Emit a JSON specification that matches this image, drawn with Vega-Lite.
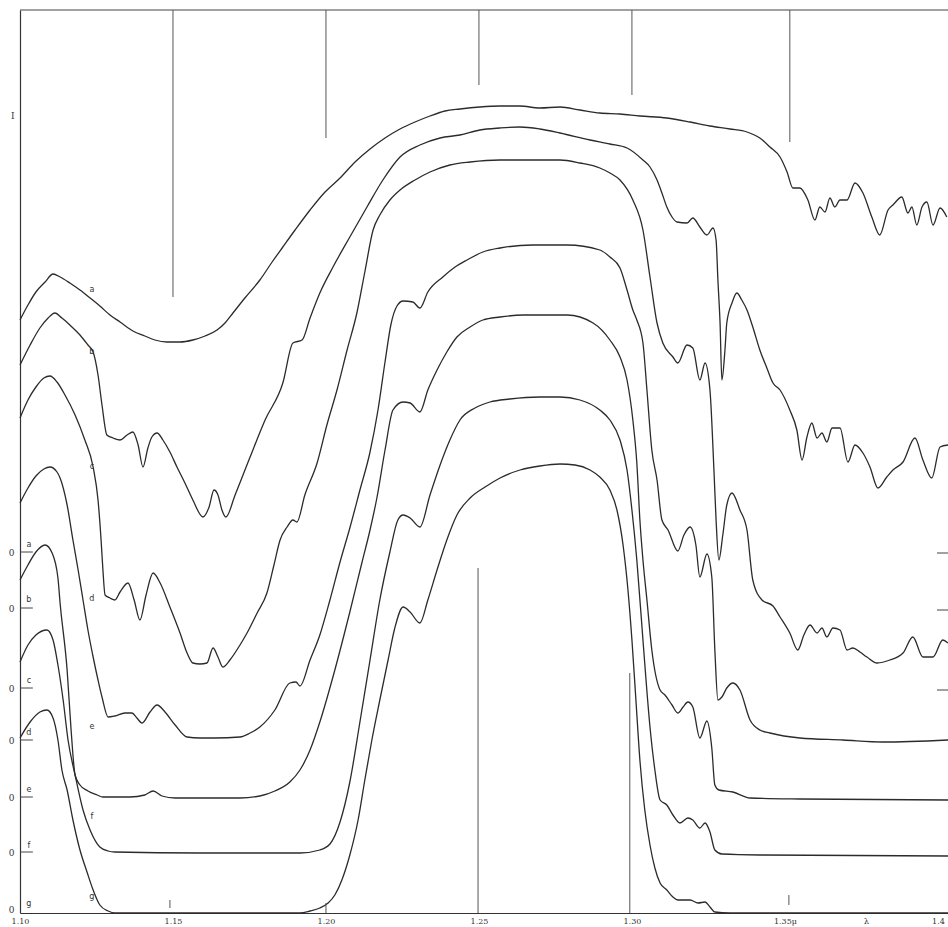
{
"$schema":"https://vega.github.io/schema/vega-lite/v6.json",
"width":928,"height":903,
"autosize":{"type":"none"},
"padding":{"left":20,"top":10,"right":0,"bottom":14},
"background":"white",
"config":{"view":{"stroke":null},"font":"DejaVu Serif"},
"datasets":{
"spectra":[
{"c":"a","lam":1.1000,"I":593},{"c":"a","lam":1.1026,"I":608},{"c":"a","lam":1.1052,"I":621},{"c":"a","lam":1.1082,"I":631},{"c":"a","lam":1.1108,"I":639},{"c":"a","lam":1.1131,"I":636},{"c":"a","lam":1.1163,"I":630},{"c":"a","lam":1.1196,"I":623},{"c":"a","lam":1.1229,"I":615},{"c":"a","lam":1.1261,"I":607},{"c":"a","lam":1.1294,"I":598},{"c":"a","lam":1.1327,"I":591},{"c":"a","lam":1.1369,"I":582},{"c":"a","lam":1.1408,"I":577},{"c":"a","lam":1.1441,"I":573},{"c":"a","lam":1.1480,"I":571},{"c":"a","lam":1.1523,"I":571},{"c":"a","lam":1.1565,"I":573},{"c":"a","lam":1.1605,"I":577},{"c":"a","lam":1.1644,"I":583},{"c":"a","lam":1.1670,"I":590},{"c":"a","lam":1.1696,"I":600},{"c":"a","lam":1.1735,"I":615},{"c":"a","lam":1.1784,"I":633},{"c":"a","lam":1.1824,"I":651},{"c":"a","lam":1.1859,"I":666},{"c":"a","lam":1.1899,"I":683},{"c":"a","lam":1.1948,"I":703},{"c":"a","lam":1.1997,"I":721},{"c":"a","lam":1.2046,"I":735},{"c":"a","lam":1.2095,"I":751},{"c":"a","lam":1.2144,"I":764},{"c":"a","lam":1.2193,"I":775},{"c":"a","lam":1.2242,"I":784},{"c":"a","lam":1.2291,"I":791},{"c":"a","lam":1.2340,"I":797},{"c":"a","lam":1.2389,"I":802},{"c":"a","lam":1.2438,"I":804},{"c":"a","lam":1.2503,"I":806},{"c":"a","lam":1.2569,"I":807},{"c":"a","lam":1.2634,"I":807},{"c":"a","lam":1.2699,"I":805},{"c":"a","lam":1.2765,"I":806},{"c":"a","lam":1.2830,"I":803},{"c":"a","lam":1.2895,"I":800},{"c":"a","lam":1.2961,"I":799},{"c":"a","lam":1.3026,"I":797},{"c":"a","lam":1.3114,"I":795},{"c":"a","lam":1.3190,"I":791},{"c":"a","lam":1.3255,"I":787},{"c":"a","lam":1.3320,"I":784},{"c":"a","lam":1.3376,"I":781},{"c":"a","lam":1.3418,"I":775},{"c":"a","lam":1.3451,"I":766},{"c":"a","lam":1.3484,"I":756},{"c":"a","lam":1.3507,"I":741},{"c":"a","lam":1.3526,"I":725},{"c":"a","lam":1.3549,"I":725},{"c":"a","lam":1.3575,"I":713},{"c":"a","lam":1.3598,"I":693},{"c":"a","lam":1.3614,"I":706},{"c":"a","lam":1.3631,"I":701},{"c":"a","lam":1.3647,"I":715},{"c":"a","lam":1.3663,"I":706},{"c":"a","lam":1.3680,"I":713},{"c":"a","lam":1.3703,"I":713},{"c":"a","lam":1.3729,"I":730},{"c":"a","lam":1.3755,"I":720},{"c":"a","lam":1.3784,"I":696},{"c":"a","lam":1.3810,"I":678},{"c":"a","lam":1.3837,"I":703},{"c":"a","lam":1.3853,"I":708},{"c":"a","lam":1.3882,"I":716},{"c":"a","lam":1.3902,"I":700},{"c":"a","lam":1.3915,"I":706},{"c":"a","lam":1.3931,"I":688},{"c":"a","lam":1.3948,"I":706},{"c":"a","lam":1.3964,"I":711},{"c":"a","lam":1.3984,"I":688},{"c":"a","lam":1.4007,"I":705},{"c":"a","lam":1.4029,"I":696},
{"c":"b","lam":1.1000,"I":548},{"c":"b","lam":1.1033,"I":568},{"c":"b","lam":1.1065,"I":585},{"c":"b","lam":1.1092,"I":595},{"c":"b","lam":1.1114,"I":600},{"c":"b","lam":1.1137,"I":595},{"c":"b","lam":1.1163,"I":588},{"c":"b","lam":1.1196,"I":578},{"c":"b","lam":1.1222,"I":568},{"c":"b","lam":1.1239,"I":561},{"c":"b","lam":1.1255,"I":538},{"c":"b","lam":1.1268,"I":508},{"c":"b","lam":1.1284,"I":478},{"c":"b","lam":1.1304,"I":475},{"c":"b","lam":1.1327,"I":473},{"c":"b","lam":1.1350,"I":478},{"c":"b","lam":1.1369,"I":481},{"c":"b","lam":1.1386,"I":468},{"c":"b","lam":1.1402,"I":446},{"c":"b","lam":1.1418,"I":465},{"c":"b","lam":1.1431,"I":476},{"c":"b","lam":1.1448,"I":480},{"c":"b","lam":1.1467,"I":473},{"c":"b","lam":1.1490,"I":461},{"c":"b","lam":1.1513,"I":446},{"c":"b","lam":1.1539,"I":430},{"c":"b","lam":1.1565,"I":413},{"c":"b","lam":1.1598,"I":396},{"c":"b","lam":1.1618,"I":406},{"c":"b","lam":1.1634,"I":423},{"c":"b","lam":1.1647,"I":418},{"c":"b","lam":1.1660,"I":403},{"c":"b","lam":1.1673,"I":396},{"c":"b","lam":1.1703,"I":418},{"c":"b","lam":1.1752,"I":456},{"c":"b","lam":1.1801,"I":493},{"c":"b","lam":1.1859,"I":530},{"c":"b","lam":1.1892,"I":570},{"c":"b","lam":1.1922,"I":573},{"c":"b","lam":1.1948,"I":595},{"c":"b","lam":1.1980,"I":620},{"c":"b","lam":1.2023,"I":646},{"c":"b","lam":1.2078,"I":676},{"c":"b","lam":1.2134,"I":706},{"c":"b","lam":1.2186,"I":733},{"c":"b","lam":1.2242,"I":756},{"c":"b","lam":1.2307,"I":768},{"c":"b","lam":1.2373,"I":775},{"c":"b","lam":1.2438,"I":778},{"c":"b","lam":1.2503,"I":783},{"c":"b","lam":1.2569,"I":785},{"c":"b","lam":1.2634,"I":786},{"c":"b","lam":1.2699,"I":784},{"c":"b","lam":1.2765,"I":780},{"c":"b","lam":1.2863,"I":773},{"c":"b","lam":1.2928,"I":769},{"c":"b","lam":1.2984,"I":765},{"c":"b","lam":1.3036,"I":753},{"c":"b","lam":1.3059,"I":746},{"c":"b","lam":1.3082,"I":733},{"c":"b","lam":1.3098,"I":720},{"c":"b","lam":1.3114,"I":706},{"c":"b","lam":1.3131,"I":696},{"c":"b","lam":1.3147,"I":691},{"c":"b","lam":1.3180,"I":690},{"c":"b","lam":1.3199,"I":695},{"c":"b","lam":1.3222,"I":686},{"c":"b","lam":1.3245,"I":678},{"c":"b","lam":1.3265,"I":685},{"c":"b","lam":1.3275,"I":673},{"c":"b","lam":1.3281,"I":633},{"c":"b","lam":1.3288,"I":590},{"c":"b","lam":1.3294,"I":533},{"c":"b","lam":1.3304,"I":563},{"c":"b","lam":1.3310,"I":590},{"c":"b","lam":1.3327,"I":610},{"c":"b","lam":1.3343,"I":620},{"c":"b","lam":1.3359,"I":613},{"c":"b","lam":1.3376,"I":603},{"c":"b","lam":1.3395,"I":586},{"c":"b","lam":1.3418,"I":563},{"c":"b","lam":1.3441,"I":545},{"c":"b","lam":1.3461,"I":530},{"c":"b","lam":1.3484,"I":523},{"c":"b","lam":1.3516,"I":503},{"c":"b","lam":1.3539,"I":483},{"c":"b","lam":1.3556,"I":453},{"c":"b","lam":1.3572,"I":476},{"c":"b","lam":1.3588,"I":490},{"c":"b","lam":1.3605,"I":475},{"c":"b","lam":1.3621,"I":480},{"c":"b","lam":1.3637,"I":471},{"c":"b","lam":1.3654,"I":485},{"c":"b","lam":1.3680,"I":485},{"c":"b","lam":1.3706,"I":451},{"c":"b","lam":1.3729,"I":468},{"c":"b","lam":1.3755,"I":460},{"c":"b","lam":1.3778,"I":446},{"c":"b","lam":1.3804,"I":425},{"c":"b","lam":1.3833,"I":436},{"c":"b","lam":1.3853,"I":443},{"c":"b","lam":1.3886,"I":451},{"c":"b","lam":1.3925,"I":475},{"c":"b","lam":1.3951,"I":453},{"c":"b","lam":1.3980,"I":435},{"c":"b","lam":1.4007,"I":466},{"c":"b","lam":1.4033,"I":468},
{"c":"c","lam":1.1000,"I":495},{"c":"c","lam":1.1026,"I":513},{"c":"c","lam":1.1052,"I":526},{"c":"c","lam":1.1078,"I":535},{"c":"c","lam":1.1098,"I":537},{"c":"c","lam":1.1121,"I":531},{"c":"c","lam":1.1147,"I":518},{"c":"c","lam":1.1180,"I":498},{"c":"c","lam":1.1212,"I":473},{"c":"c","lam":1.1239,"I":446},{"c":"c","lam":1.1255,"I":413},{"c":"c","lam":1.1265,"I":373},{"c":"c","lam":1.1271,"I":343},{"c":"c","lam":1.1278,"I":318},{"c":"c","lam":1.1294,"I":315},{"c":"c","lam":1.1310,"I":313},{"c":"c","lam":1.1327,"I":321},{"c":"c","lam":1.1353,"I":330},{"c":"c","lam":1.1373,"I":313},{"c":"c","lam":1.1392,"I":293},{"c":"c","lam":1.1412,"I":318},{"c":"c","lam":1.1435,"I":340},{"c":"c","lam":1.1458,"I":330},{"c":"c","lam":1.1490,"I":306},{"c":"c","lam":1.1523,"I":280},{"c":"c","lam":1.1546,"I":260},{"c":"c","lam":1.1565,"I":250},{"c":"c","lam":1.1588,"I":249},{"c":"c","lam":1.1611,"I":250},{"c":"c","lam":1.1631,"I":265},{"c":"c","lam":1.1647,"I":256},{"c":"c","lam":1.1663,"I":246},{"c":"c","lam":1.1686,"I":253},{"c":"c","lam":1.1719,"I":268},{"c":"c","lam":1.1742,"I":280},{"c":"c","lam":1.1775,"I":300},{"c":"c","lam":1.1807,"I":320},{"c":"c","lam":1.1830,"I":348},{"c":"c","lam":1.1850,"I":373},{"c":"c","lam":1.1873,"I":386},{"c":"c","lam":1.1892,"I":393},{"c":"c","lam":1.1905,"I":391},{"c":"c","lam":1.1931,"I":418},{"c":"c","lam":1.1971,"I":450},{"c":"c","lam":1.2003,"I":488},{"c":"c","lam":1.2036,"I":523},{"c":"c","lam":1.2069,"I":563},{"c":"c","lam":1.2101,"I":600},{"c":"c","lam":1.2127,"I":641},{"c":"c","lam":1.2154,"I":683},{"c":"c","lam":1.2176,"I":698},{"c":"c","lam":1.2209,"I":713},{"c":"c","lam":1.2242,"I":723},{"c":"c","lam":1.2291,"I":733},{"c":"c","lam":1.2340,"I":741},{"c":"c","lam":1.2405,"I":748},{"c":"c","lam":1.2471,"I":751},{"c":"c","lam":1.2569,"I":753},{"c":"c","lam":1.2667,"I":753},{"c":"c","lam":1.2765,"I":753},{"c":"c","lam":1.2830,"I":750},{"c":"c","lam":1.2895,"I":745},{"c":"c","lam":1.2928,"I":740},{"c":"c","lam":1.2961,"I":733},{"c":"c","lam":1.3003,"I":713},{"c":"c","lam":1.3036,"I":683},{"c":"c","lam":1.3059,"I":636},{"c":"c","lam":1.3082,"I":590},{"c":"c","lam":1.3101,"I":570},{"c":"c","lam":1.3134,"I":556},{"c":"c","lam":1.3150,"I":550},{"c":"c","lam":1.3180,"I":568},{"c":"c","lam":1.3199,"I":565},{"c":"c","lam":1.3222,"I":533},{"c":"c","lam":1.3239,"I":550},{"c":"c","lam":1.3255,"I":523},{"c":"c","lam":1.3268,"I":443},{"c":"c","lam":1.3275,"I":393},{"c":"c","lam":1.3284,"I":353},{"c":"c","lam":1.3297,"I":378},{"c":"c","lam":1.3310,"I":408},{"c":"c","lam":1.3327,"I":420},{"c":"c","lam":1.3353,"I":403},{"c":"c","lam":1.3376,"I":383},{"c":"c","lam":1.3395,"I":333},{"c":"c","lam":1.3425,"I":313},{"c":"c","lam":1.3461,"I":307},{"c":"c","lam":1.3484,"I":296},{"c":"c","lam":1.3516,"I":280},{"c":"c","lam":1.3542,"I":263},{"c":"c","lam":1.3562,"I":278},{"c":"c","lam":1.3582,"I":288},{"c":"c","lam":1.3605,"I":280},{"c":"c","lam":1.3621,"I":285},{"c":"c","lam":1.3637,"I":276},{"c":"c","lam":1.3657,"I":285},{"c":"c","lam":1.3680,"I":283},{"c":"c","lam":1.3703,"I":263},{"c":"c","lam":1.3722,"I":265},{"c":"c","lam":1.3745,"I":261},{"c":"c","lam":1.3768,"I":256},{"c":"c","lam":1.3801,"I":250},{"c":"c","lam":1.3843,"I":253},{"c":"c","lam":1.3886,"I":260},{"c":"c","lam":1.3918,"I":276},{"c":"c","lam":1.3951,"I":256},{"c":"c","lam":1.3984,"I":256},{"c":"c","lam":1.4016,"I":273},{"c":"c","lam":1.4033,"I":270},
{"c":"d","lam":1.1000,"I":410},{"c":"d","lam":1.1026,"I":425},{"c":"d","lam":1.1052,"I":437},{"c":"d","lam":1.1078,"I":444},{"c":"d","lam":1.1098,"I":446},{"c":"d","lam":1.1121,"I":441},{"c":"d","lam":1.1131,"I":435},{"c":"d","lam":1.1154,"I":408},{"c":"d","lam":1.1173,"I":373},{"c":"d","lam":1.1190,"I":343},{"c":"d","lam":1.1206,"I":313},{"c":"d","lam":1.1222,"I":283},{"c":"d","lam":1.1239,"I":256},{"c":"d","lam":1.1255,"I":233},{"c":"d","lam":1.1268,"I":216},{"c":"d","lam":1.1288,"I":196},{"c":"d","lam":1.1310,"I":197},{"c":"d","lam":1.1343,"I":200},{"c":"d","lam":1.1366,"I":200},{"c":"d","lam":1.1382,"I":195},{"c":"d","lam":1.1399,"I":190},{"c":"d","lam":1.1425,"I":201},{"c":"d","lam":1.1448,"I":208},{"c":"d","lam":1.1474,"I":201},{"c":"d","lam":1.1507,"I":188},{"c":"d","lam":1.1546,"I":176},{"c":"d","lam":1.1588,"I":175},{"c":"d","lam":1.1637,"I":175},{"c":"d","lam":1.1719,"I":176},{"c":"d","lam":1.1752,"I":180},{"c":"d","lam":1.1784,"I":186},{"c":"d","lam":1.1833,"I":203},{"c":"d","lam":1.1882,"I":230},{"c":"d","lam":1.1902,"I":231},{"c":"d","lam":1.1915,"I":227},{"c":"d","lam":1.1948,"I":253},{"c":"d","lam":1.1980,"I":278},{"c":"d","lam":1.2013,"I":313},{"c":"d","lam":1.2046,"I":351},{"c":"d","lam":1.2078,"I":385},{"c":"d","lam":1.2111,"I":423},{"c":"d","lam":1.2144,"I":461},{"c":"d","lam":1.2170,"I":503},{"c":"d","lam":1.2193,"I":551},{"c":"d","lam":1.2212,"I":588},{"c":"d","lam":1.2232,"I":607},{"c":"d","lam":1.2252,"I":612},{"c":"d","lam":1.2284,"I":611},{"c":"d","lam":1.2307,"I":605},{"c":"d","lam":1.2333,"I":621},{"c":"d","lam":1.2382,"I":636},{"c":"d","lam":1.2422,"I":646},{"c":"d","lam":1.2461,"I":653},{"c":"d","lam":1.2513,"I":661},{"c":"d","lam":1.2569,"I":665},{"c":"d","lam":1.2676,"I":668},{"c":"d","lam":1.2788,"I":668},{"c":"d","lam":1.2895,"I":663},{"c":"d","lam":1.2928,"I":656},{"c":"d","lam":1.2961,"I":645},{"c":"d","lam":1.2984,"I":623},{"c":"d","lam":1.3003,"I":603},{"c":"d","lam":1.3016,"I":593},{"c":"d","lam":1.3036,"I":570},{"c":"d","lam":1.3049,"I":523},{"c":"d","lam":1.3065,"I":463},{"c":"d","lam":1.3082,"I":433},{"c":"d","lam":1.3098,"I":393},{"c":"d","lam":1.3118,"I":383},{"c":"d","lam":1.3150,"I":362},{"c":"d","lam":1.3170,"I":378},{"c":"d","lam":1.3190,"I":386},{"c":"d","lam":1.3209,"I":368},{"c":"d","lam":1.3222,"I":336},{"c":"d","lam":1.3245,"I":359},{"c":"d","lam":1.3261,"I":336},{"c":"d","lam":1.3271,"I":263},{"c":"d","lam":1.3281,"I":213},{"c":"d","lam":1.3294,"I":216},{"c":"d","lam":1.3310,"I":225},{"c":"d","lam":1.3330,"I":230},{"c":"d","lam":1.3353,"I":223},{"c":"d","lam":1.3386,"I":193},{"c":"d","lam":1.3418,"I":183},{"c":"d","lam":1.3451,"I":180},{"c":"d","lam":1.3549,"I":175},{"c":"d","lam":1.3690,"I":173},{"c":"d","lam":1.3820,"I":171},{"c":"d","lam":1.4033,"I":173},
{"c":"e","lam":1.1000,"I":333},{"c":"e","lam":1.1026,"I":348},{"c":"e","lam":1.1052,"I":361},{"c":"e","lam":1.1082,"I":368},{"c":"e","lam":1.1105,"I":360},{"c":"e","lam":1.1124,"I":335},{"c":"e","lam":1.1131,"I":310},{"c":"e","lam":1.1154,"I":243},{"c":"e","lam":1.1167,"I":183},{"c":"e","lam":1.1180,"I":138},{"c":"e","lam":1.1196,"I":128},{"c":"e","lam":1.1222,"I":122},{"c":"e","lam":1.1252,"I":118},{"c":"e","lam":1.1271,"I":116},{"c":"e","lam":1.1359,"I":116},{"c":"e","lam":1.1408,"I":118},{"c":"e","lam":1.1435,"I":122},{"c":"e","lam":1.1464,"I":117},{"c":"e","lam":1.1507,"I":115},{"c":"e","lam":1.1719,"I":115},{"c":"e","lam":1.1784,"I":117},{"c":"e","lam":1.1833,"I":122},{"c":"e","lam":1.1882,"I":131},{"c":"e","lam":1.1915,"I":143},{"c":"e","lam":1.1948,"I":163},{"c":"e","lam":1.1980,"I":191},{"c":"e","lam":1.2029,"I":243},{"c":"e","lam":1.2078,"I":301},{"c":"e","lam":1.2118,"I":351},{"c":"e","lam":1.2144,"I":383},{"c":"e","lam":1.2167,"I":416},{"c":"e","lam":1.2193,"I":463},{"c":"e","lam":1.2219,"I":503},{"c":"e","lam":1.2252,"I":511},{"c":"e","lam":1.2275,"I":510},{"c":"e","lam":1.2307,"I":501},{"c":"e","lam":1.2333,"I":523},{"c":"e","lam":1.2363,"I":543},{"c":"e","lam":1.2395,"I":561},{"c":"e","lam":1.2428,"I":576},{"c":"e","lam":1.2471,"I":586},{"c":"e","lam":1.2513,"I":593},{"c":"e","lam":1.2569,"I":596},{"c":"e","lam":1.2644,"I":598},{"c":"e","lam":1.2788,"I":598},{"c":"e","lam":1.2873,"I":590},{"c":"e","lam":1.2928,"I":573},{"c":"e","lam":1.2961,"I":556},{"c":"e","lam":1.2984,"I":533},{"c":"e","lam":1.3003,"I":493},{"c":"e","lam":1.3016,"I":450},{"c":"e","lam":1.3026,"I":393},{"c":"e","lam":1.3036,"I":353},{"c":"e","lam":1.3049,"I":313},{"c":"e","lam":1.3065,"I":263},{"c":"e","lam":1.3092,"I":223},{"c":"e","lam":1.3108,"I":218},{"c":"e","lam":1.3131,"I":208},{"c":"e","lam":1.3150,"I":200},{"c":"e","lam":1.3167,"I":206},{"c":"e","lam":1.3183,"I":211},{"c":"e","lam":1.3199,"I":206},{"c":"e","lam":1.3222,"I":175},{"c":"e","lam":1.3245,"I":192},{"c":"e","lam":1.3261,"I":165},{"c":"e","lam":1.3271,"I":128},{"c":"e","lam":1.3284,"I":123},{"c":"e","lam":1.3330,"I":121},{"c":"e","lam":1.3386,"I":115},{"c":"e","lam":1.3549,"I":114},{"c":"e","lam":1.4033,"I":113},
{"c":"f","lam":1.1000,"I":251},{"c":"f","lam":1.1026,"I":268},{"c":"f","lam":1.1052,"I":278},{"c":"f","lam":1.1088,"I":283},{"c":"f","lam":1.1108,"I":273},{"c":"f","lam":1.1124,"I":248},{"c":"f","lam":1.1141,"I":213},{"c":"f","lam":1.1157,"I":173},{"c":"f","lam":1.1180,"I":138},{"c":"f","lam":1.1206,"I":103},{"c":"f","lam":1.1229,"I":83},{"c":"f","lam":1.1261,"I":66},{"c":"f","lam":1.1288,"I":62},{"c":"f","lam":1.1310,"I":61},{"c":"f","lam":1.1588,"I":60},{"c":"f","lam":1.1915,"I":60},{"c":"f","lam":1.1980,"I":63},{"c":"f","lam":1.2013,"I":69},{"c":"f","lam":1.2046,"I":91},{"c":"f","lam":1.2078,"I":131},{"c":"f","lam":1.2111,"I":191},{"c":"f","lam":1.2144,"I":253},{"c":"f","lam":1.2176,"I":313},{"c":"f","lam":1.2209,"I":361},{"c":"f","lam":1.2235,"I":393},{"c":"f","lam":1.2252,"I":398},{"c":"f","lam":1.2275,"I":395},{"c":"f","lam":1.2307,"I":386},{"c":"f","lam":1.2340,"I":418},{"c":"f","lam":1.2373,"I":448},{"c":"f","lam":1.2405,"I":473},{"c":"f","lam":1.2438,"I":493},{"c":"f","lam":1.2487,"I":505},{"c":"f","lam":1.2536,"I":511},{"c":"f","lam":1.2601,"I":514},{"c":"f","lam":1.2699,"I":516},{"c":"f","lam":1.2765,"I":516},{"c":"f","lam":1.2830,"I":513},{"c":"f","lam":1.2895,"I":503},{"c":"f","lam":1.2928,"I":493},{"c":"f","lam":1.2961,"I":473},{"c":"f","lam":1.2984,"I":443},{"c":"f","lam":1.3000,"I":403},{"c":"f","lam":1.3016,"I":353},{"c":"f","lam":1.3036,"I":273},{"c":"f","lam":1.3059,"I":186},{"c":"f","lam":1.3075,"I":143},{"c":"f","lam":1.3092,"I":113},{"c":"f","lam":1.3114,"I":108},{"c":"f","lam":1.3134,"I":98},{"c":"f","lam":1.3157,"I":90},{"c":"f","lam":1.3183,"I":95},{"c":"f","lam":1.3199,"I":93},{"c":"f","lam":1.3222,"I":85},{"c":"f","lam":1.3239,"I":90},{"c":"f","lam":1.3255,"I":81},{"c":"f","lam":1.3271,"I":63},{"c":"f","lam":1.3294,"I":59},{"c":"f","lam":1.3418,"I":58},{"c":"f","lam":1.4033,"I":57},
{"c":"g","lam":1.1000,"I":175},{"c":"g","lam":1.1033,"I":191},{"c":"g","lam":1.1065,"I":201},{"c":"g","lam":1.1088,"I":203},{"c":"g","lam":1.1108,"I":195},{"c":"g","lam":1.1124,"I":173},{"c":"g","lam":1.1137,"I":143},{"c":"g","lam":1.1154,"I":123},{"c":"g","lam":1.1173,"I":93},{"c":"g","lam":1.1196,"I":63},{"c":"g","lam":1.1219,"I":41},{"c":"g","lam":1.1239,"I":23},{"c":"g","lam":1.1261,"I":8},{"c":"g","lam":1.1288,"I":2},{"c":"g","lam":1.1310,"I":0},{"c":"g","lam":1.1915,"I":0},{"c":"g","lam":1.1948,"I":2},{"c":"g","lam":1.1980,"I":5},{"c":"g","lam":1.2007,"I":10},{"c":"g","lam":1.2029,"I":18},{"c":"g","lam":1.2052,"I":33},{"c":"g","lam":1.2078,"I":58},{"c":"g","lam":1.2105,"I":93},{"c":"g","lam":1.2127,"I":133},{"c":"g","lam":1.2150,"I":173},{"c":"g","lam":1.2176,"I":213},{"c":"g","lam":1.2203,"I":253},{"c":"g","lam":1.2225,"I":285},{"c":"g","lam":1.2252,"I":306},{"c":"g","lam":1.2275,"I":301},{"c":"g","lam":1.2307,"I":290},{"c":"g","lam":1.2333,"I":313},{"c":"g","lam":1.2363,"I":343},{"c":"g","lam":1.2395,"I":373},{"c":"g","lam":1.2428,"I":398},{"c":"g","lam":1.2471,"I":415},{"c":"g","lam":1.2520,"I":426},{"c":"g","lam":1.2569,"I":435},{"c":"g","lam":1.2634,"I":443},{"c":"g","lam":1.2699,"I":447},{"c":"g","lam":1.2765,"I":449},{"c":"g","lam":1.2814,"I":448},{"c":"g","lam":1.2863,"I":443},{"c":"g","lam":1.2895,"I":436},{"c":"g","lam":1.2928,"I":423},{"c":"g","lam":1.2951,"I":403},{"c":"g","lam":1.2971,"I":368},{"c":"g","lam":1.2987,"I":323},{"c":"g","lam":1.3000,"I":273},{"c":"g","lam":1.3013,"I":213},{"c":"g","lam":1.3026,"I":153},{"c":"g","lam":1.3042,"I":103},{"c":"g","lam":1.3059,"I":68},{"c":"g","lam":1.3075,"I":45},{"c":"g","lam":1.3092,"I":30},{"c":"g","lam":1.3114,"I":23},{"c":"g","lam":1.3134,"I":16},{"c":"g","lam":1.3150,"I":13},{"c":"g","lam":1.3190,"I":13},{"c":"g","lam":1.3216,"I":10},{"c":"g","lam":1.3239,"I":11},{"c":"g","lam":1.3255,"I":6},{"c":"g","lam":1.3271,"I":1},{"c":"g","lam":1.3320,"I":0},{"c":"g","lam":1.4033,"I":0}
],
"curveLabels":[
{"t":"a","lam":1.1235,"I":623},{"t":"b","lam":1.1235,"I":561},{"t":"c","lam":1.1235,"I":446},{"t":"d","lam":1.1235,"I":314},{"t":"e","lam":1.1235,"I":186},{"t":"f","lam":1.1235,"I":96},{"t":"g","lam":1.1235,"I":16},
{"t":"a","lam":1.1029,"I":368},{"t":"b","lam":1.1029,"I":313},{"t":"c","lam":1.1029,"I":232},{"t":"d","lam":1.1029,"I":180},{"t":"e","lam":1.1029,"I":123},{"t":"f","lam":1.1029,"I":67},{"t":"g","lam":1.1029,"I":9}
],
"hrules":[
{"lam":1.1000,"lam2":1.1042,"I":361},{"lam":1.1000,"lam2":1.1042,"I":305},{"lam":1.1000,"lam2":1.1042,"I":225},{"lam":1.1000,"lam2":1.1042,"I":173},{"lam":1.1000,"lam2":1.1042,"I":116},{"lam":1.1000,"lam2":1.1042,"I":61},
{"lam":1.3997,"lam2":1.4033,"I":360},{"lam":1.3997,"lam2":1.4033,"I":303},{"lam":1.3997,"lam2":1.4033,"I":223},
{"lam":1.1000,"lam2":1.4033,"I":903}
],
"vrules":[
{"lam":1.15,"I":903,"I2":616},{"lam":1.20,"I":903,"I2":775},{"lam":1.25,"I":903,"I2":828},{"lam":1.30,"I":903,"I2":818},{"lam":1.3516,"I":903,"I2":771},
{"lam":1.2497,"I":345,"I2":0},{"lam":1.2993,"I":240,"I2":0},
{"lam":1.1490,"I":13,"I2":5},{"lam":1.2000,"I":10,"I2":0},{"lam":1.3513,"I":18,"I2":8}
]
},
"layer":[
{"data":{"name":"spectra"},
 "mark":{"type":"line","color":"#2b2b2b","strokeWidth":1.3,"interpolate":"monotone"},
 "encoding":{
  "x":{"field":"lam","type":"quantitative","scale":{"domain":[1.1,1.4033],"nice":false,"zero":false},
   "axis":{"orient":"bottom","title":null,"values":[1.10,1.15,1.20,1.25,1.30,1.35,1.3765,1.40],
     "labelExpr":"datum.value > 1.37 && datum.value < 1.39 ? 'λ' : (datum.value > 1.399 ? '1.4' : (datum.value > 1.349 && datum.value < 1.351 ? '1.35μ' : format(datum.value, '.2f')))",
     "ticks":false,"grid":false,"domainColor":"#333333","domainWidth":1.2,"labelFont":"DejaVu Serif","labelFontSize":8,"labelColor":"#333333","labelPadding":4,"labelFlush":false,"labelOverlap":false}},
  "y":{"field":"I","type":"quantitative","scale":{"domain":[0,903],"nice":false,"zero":false},
   "axis":{"orient":"left","title":null,"values":[4,61,116,173,225,305,361,798],
     "labelExpr":"datum.value > 700 ? 'I' : '0'",
     "ticks":false,"grid":false,"domainColor":"#333333","domainWidth":1.2,"labelFont":"DejaVu Serif","labelFontSize":9,"labelColor":"#333333","labelPadding":6,"labelFlush":false,"labelOverlap":false}},
  "detail":{"field":"c","type":"nominal"}
 }},
{"data":{"name":"curveLabels"},
 "mark":{"type":"text","font":"DejaVu Sans","fontSize":8,"color":"#333333"},
 "encoding":{"x":{"field":"lam","type":"quantitative"},"y":{"field":"I","type":"quantitative"},"text":{"field":"t","type":"nominal"}}},
{"data":{"name":"hrules"},
 "mark":{"type":"rule","color":"#444444","strokeWidth":1},
 "encoding":{"x":{"field":"lam","type":"quantitative"},"x2":{"field":"lam2"},"y":{"field":"I","type":"quantitative"}}},
{"data":{"name":"vrules"},
 "mark":{"type":"rule","color":"#555555","strokeWidth":1},
 "encoding":{"x":{"field":"lam","type":"quantitative"},"y":{"field":"I","type":"quantitative"},"y2":{"field":"I2"}}}
]
}
